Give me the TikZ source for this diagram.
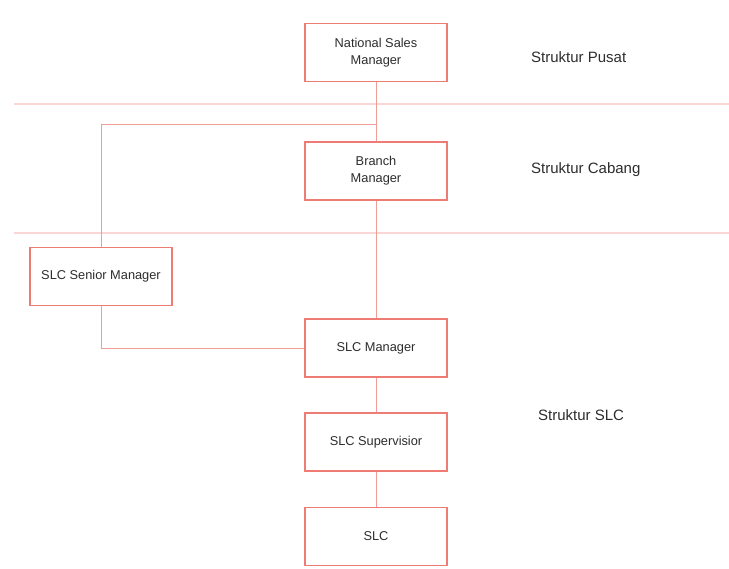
\documentclass[tikz,border=0pt]{standalone}
\usepackage{fontspec}
\setmainfont{Liberation Sans}
\usetikzlibrary{arrows, shapes}
\definecolor{boxred}{RGB}{238,124,116}
\definecolor{linered}{RGB}{238,158,150}
\definecolor{seppink}{RGB}{250,214,212}
\definecolor{txtgray}{RGB}{45,45,45}

\begin{document}
\begin{tikzpicture}[x=1pt, y=-1pt]
    \tikzstyle{post} = [draw=boxred, line width=1.8pt, fill=white, minimum width=142pt, minimum height=58pt, inner sep=0pt, align=center, text=txtgray, font=\fontsize{12.8}{17}\selectfont]
    \tikzstyle{level} = [anchor=west, inner sep=0pt, text=txtgray, font=\fontsize{15}{17}\selectfont]
    \tikzstyle{link} = [draw=linered, line width=0.8pt]
    \fill[white] (0,0) rectangle (729,569);
    \useasboundingbox (0,0) rectangle (729,569);
    % level separators
    \draw [seppink, line width=1.2pt] (14,104) -- (729,104);
    \draw [seppink, line width=1.2pt] (14,233) -- (729,233);
    % posts
    \node (nsm) [post] at (376, 52.5) {National Sales\\Manager};
    \node (bm)  [post] at (376, 171) {Branch\\Manager};
    \node (ssm) [post] at (101, 276.5) {SLC Senior Manager};
    \node (sm)  [post] at (376, 348) {SLC Manager};
    \node (sv)  [post] at (376, 442) {SLC Supervisior};
    \node (slc) [post] at (376, 536.5) {SLC};
    \coordinate (split) at (376, 124);
    % level names
    \node (pusat)  [level] at (531, 57) {Struktur Pusat};
    \node (cabang) [level] at (531, 170) {Struktur Cabang};
    \node (struk)  [level] at (538, 415) {Struktur SLC};
    % links
    \draw [link] (nsm) -- (bm);
    \draw [link] (split) -| (ssm);
    \draw [link] (bm) -- (sm);
    \draw [link] (ssm) |- (sm);
    \draw [link] (sm) -- (sv);
    \draw [link] (sv) -- (slc);
\end{tikzpicture}
\end{document}
